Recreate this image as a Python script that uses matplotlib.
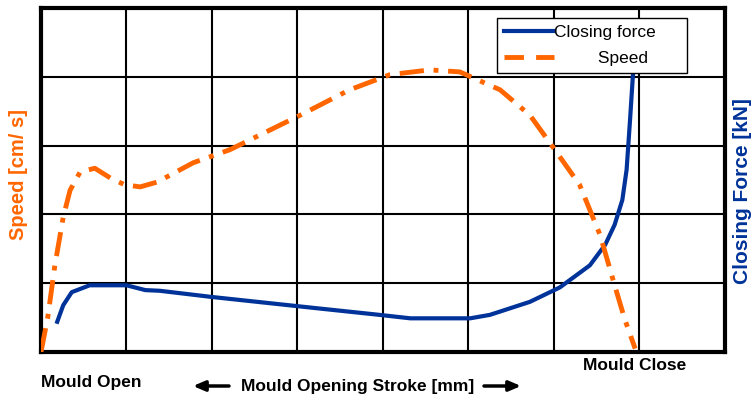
import matplotlib.pyplot as plt

# stroke position (grid units) vs speed / closing force
speed_x = [0.0, 0.08, 0.16, 0.26, 0.34, 0.46, 0.63, 0.81, 0.98, 1.16, 1.36, 1.78, 2.21,
           3.03, 3.61, 4.08, 4.55, 4.90, 5.37, 5.72, 6.01, 6.30, 6.54, 6.71, 6.83, 6.95]
speed_y = [0.0, 0.51, 1.24, 1.96, 2.35, 2.62, 2.67, 2.53, 2.43, 2.40, 2.47, 2.75, 2.94,
           3.44, 3.81, 4.03, 4.10, 4.07, 3.81, 3.44, 2.94, 2.43, 1.70, 0.97, 0.47, 0.05]

force_x = [0.19, 0.26, 0.36, 0.57, 1.0, 1.22, 1.39, 2.0, 2.6, 3.2, 3.96, 4.32, 5.02,
           5.25, 5.72, 6.07, 6.42, 6.60, 6.71, 6.80, 6.85, 6.89, 6.92, 6.94]
force_y = [0.44, 0.68, 0.87, 0.97, 0.97, 0.90, 0.89, 0.80, 0.72, 0.64, 0.54, 0.49, 0.49,
           0.54, 0.73, 0.94, 1.26, 1.56, 1.85, 2.21, 2.65, 3.37, 3.95, 4.30]

orange = '#ff6600'
blue = '#003399'

plt.rcParams['font.family'] = ['Liberation Sans', 'DejaVu Sans']

fig = plt.figure(figsize=(7.52, 3.96), dpi=100)
ax = fig.add_axes([0.0545, 0.111, 0.9095, 0.869])
ax.set_xlim(0, 8)
ax.set_ylim(0, 5)
ax.set_xticks(range(9))
ax.set_yticks(range(6))
ax.grid(True, color='black', lw=1.5)
ax.tick_params(length=0, labelleft=False, labelbottom=False)
for s in ax.spines.values():
    s.set_linewidth(3)
ax.set_axisbelow(True)

ax.plot(force_x, force_y, color=blue, lw=3, label='Closing force     ', zorder=3)
ax.plot(speed_x, speed_y, color=orange, lw=3.5, ls=(0, (5, 2, 1, 2)), zorder=3)
# legend shows a plain dashed line for speed
ax.plot([], [], color=orange, lw=3.5, ls=(0, (4, 2.5)), label='         Speed')

leg = ax.legend(loc='upper left', bbox_to_anchor=(497 / 752, 1 - 18 / 396),
                bbox_transform=fig.transFigure, borderaxespad=0, fontsize=12.5,
                frameon=True, fancybox=False, edgecolor='black', framealpha=1,
                handlelength=2.9, handletextpad=0.0, borderpad=0.4, labelspacing=0.6)
leg.get_frame().set_linewidth(1.0)
leg.set_zorder(5)

fig.text(0.024, 0.56, 'Speed [cm/ s]', rotation=90, color=orange, fontsize=14.5,
         fontweight='bold', ha='center', va='center')
fig.text(0.988, 0.518, 'Closing Force [kN]', rotation=90, color=blue, fontsize=15,
         fontweight='bold', ha='center', va='center')
fig.text(41 / 752, 1 - 383 / 396, 'Mould Open', fontsize=12.5, fontweight='bold',
         ha='left', va='center')
fig.text(583 / 752, 1 - 366 / 396, 'Mould Close', fontsize=12.5, fontweight='bold',
         ha='left', va='center')
fig.text(358 / 752, 1 - 386 / 396, 'Mould Opening Stroke [mm]', fontsize=12.5,
         fontweight='bold', ha='center', va='center')

arrow = dict(arrowstyle='-|>,head_width=0.3,head_length=0.7', lw=2.5, color='black',
             shrinkA=0, shrinkB=0)
ax.annotate('', xy=(193 / 752, 1 - 386 / 396), xytext=(229 / 752, 1 - 386 / 396),
            xycoords='figure fraction', textcoords='figure fraction', arrowprops=arrow)
ax.annotate('', xy=(521 / 752, 1 - 386 / 396), xytext=(484 / 752, 1 - 386 / 396),
            xycoords='figure fraction', textcoords='figure fraction', arrowprops=arrow)

fig.savefig('out.png', dpi=100)
